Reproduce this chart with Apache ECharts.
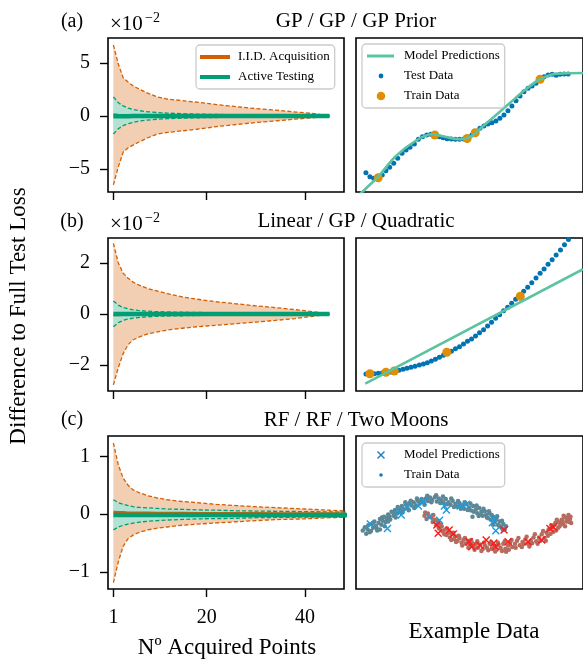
<!DOCTYPE html>
<html>
<head>
<meta charset="utf-8">
<script src="https://cdn.jsdelivr.net/npm/echarts@6.0.0/dist/echarts.min.js"></script>
<style>
  html, body { margin: 0; padding: 0; background: #fff; }
  #chart { width: 583px; height: 660px; }
</style>
</head>
<body>
<div id="chart"></div>
<script>
// ---------- left column: difference to full test loss ----------
const xTicks = [1, 20, 40];

// (a) GP / GP / GP Prior   (values x 1e-2)
const xA = [1, 2, 3, 4, 5, 6, 8, 10, 12, 15, 18, 22, 26, 30, 34, 38, 42, 45];
const iidHiA = [6.7, 4.9, 3.6, 3.2, 2.85, 2.6, 2.15, 1.8, 1.6, 1.45, 1.3, 1.08, 0.88, 0.7, 0.55, 0.38, 0.22, 0];
const iidLoA = [-6.5, -4.8, -3.4, -3.0, -2.75, -2.5, -2.05, -1.7, -1.55, -1.4, -1.25, -1.0, -0.8, -0.62, -0.46, -0.3, -0.15, 0];
const atHiA = [1.8, 1.25, 0.95, 0.75, 0.62, 0.52, 0.4, 0.32, 0.27, 0.22, 0.18, 0.15, 0.12, 0.1, 0.08, 0.06, 0.03, 0];
const atLoA = [-1.7, -1.2, -0.9, -0.72, -0.6, -0.5, -0.38, -0.3, -0.25, -0.2, -0.17, -0.14, -0.11, -0.09, -0.07, -0.05, -0.03, 0];
const iidMeanA = [0.15, 0.1, 0.07, 0.05, 0.04, 0.03, 0.02, 0.02, 0.01, 0.01, 0.01, 0, 0, 0, 0, 0, 0, 0];
const atMeanA = [-0.02, -0.02, -0.02, -0.02, -0.01, -0.01, -0.01, -0.01, -0.01, -0.01, 0, 0, 0, 0, 0, 0, 0, 0];
const yTicksA = [-5, 0, 5];

// (b) Linear / GP / Quadratic   (values x 1e-2)
const xB = [1, 2, 3, 4, 5, 6, 8, 10, 12, 15, 18, 22, 26, 30, 34, 38, 42, 45];
const iidHiB = [2.77, 2.0, 1.6, 1.4, 1.25, 1.15, 1.0, 0.9, 0.8, 0.67, 0.58, 0.48, 0.4, 0.32, 0.25, 0.17, 0.08, 0];
const iidLoB = [-2.78, -2.1, -1.55, -1.2, -1.02, -0.92, -0.78, -0.7, -0.63, -0.56, -0.5, -0.44, -0.38, -0.32, -0.25, -0.18, -0.08, 0];
const atHiB = [0.51, 0.35, 0.25, 0.2, 0.16, 0.14, 0.11, 0.09, 0.08, 0.07, 0.06, 0.05, 0.04, 0.03, 0.03, 0.02, 0.01, 0];
const atLoB = [-0.5, -0.34, -0.25, -0.2, -0.16, -0.14, -0.11, -0.09, -0.08, -0.07, -0.06, -0.05, -0.04, -0.03, -0.03, -0.02, -0.01, 0];
const iidMeanB = [-0.05, -0.05, -0.04, -0.04, -0.03, -0.03, -0.03, -0.02, -0.02, -0.02, -0.01, -0.01, -0.01, -0.01, 0, 0, 0, 0];
const atMeanB = [0, 0, 0, 0, 0, 0, 0, 0, 0, 0, 0, 0, 0, 0, 0, 0, 0, 0];
const yTicksB = [-2, 0, 2];

// (c) RF / RF / Two Moons
const xC = [1, 2, 3, 4, 5, 6, 8, 10, 12, 15, 18, 22, 26, 30, 35, 40, 45, 49];
const iidHiC = [1.23, 0.85, 0.62, 0.5, 0.42, 0.38, 0.32, 0.28, 0.25, 0.22, 0.2, 0.17, 0.15, 0.13, 0.11, 0.09, 0.07, 0.05];
const iidLoC = [-1.18, -0.82, -0.55, -0.42, -0.36, -0.32, -0.27, -0.24, -0.22, -0.19, -0.17, -0.15, -0.13, -0.11, -0.09, -0.08, -0.06, -0.05];
const atHiC = [0.25, 0.2, 0.17, 0.15, 0.13, 0.12, 0.11, 0.1, 0.09, 0.085, 0.075, 0.07, 0.06, 0.055, 0.05, 0.045, 0.04, 0.035];
const atLoC = [-0.27, -0.22, -0.19, -0.17, -0.155, -0.14, -0.12, -0.11, -0.1, -0.09, -0.08, -0.075, -0.07, -0.06, -0.055, -0.05, -0.045, -0.04];
const iidMeanC = [0.04, 0.035, 0.035, 0.03, 0.03, 0.03, 0.03, 0.025, 0.025, 0.025, 0.02, 0.02, 0.02, 0.02, 0.015, 0.015, 0.015, 0.01];
const atMeanC = [-0.015, -0.015, -0.015, -0.015, -0.015, -0.015, -0.015, -0.015, -0.015, -0.015, -0.015, -0.015, -0.015, -0.015, -0.015, -0.015, -0.015, -0.015];
const yTicksC = [-1, 0, 1];

// ---------- right column: example data ----------
// GP prior sample
const gpTestX = [10.7, 15, 19, 28.3, 32.3, 36.3, 40.7, 45, 49.7, 54, 58.3, 63, 67.3, 71.7, 76.3, 80.7, 85, 89.7, 94, 98.3,
  103, 107.3, 111.7, 116.3, 120.5, 125, 129.3, 133.7, 138, 142.3, 146.7, 151, 155.3, 159.7, 164, 168.3, 172.7, 177, 181.3, 185.7,
  190, 194.3, 198.7, 203, 207.3, 211.7, 216, 220.3, 224.7, 229];
const gpTestY = [19.3, 15.3, 13.7, 17, 21.3, 24.7, 28.7, 33.7, 38.7, 42, 44.7, 48, 52.7, 55.3, 57, 57.7, 57.5, 55.3, 54.3, 53.3,
  53, 52.7, 52.7, 53, 54, 57, 60, 63.7, 66, 68, 69.3, 71, 73.7, 77, 81.3, 86, 91.3, 96, 100.3, 103.7,
  106, 108.7, 112, 115.3, 117, 117.7, 116.7, 117.7, 118, 118];
const gpTrainX = [24, 85, 120, 128.7, 198.7];
const gpTrainY = [14.3, 57, 53.5, 59.3, 112.7];
const gpPredX = [1, 9, 24, 42.3, 65.7, 82.3, 95.7, 112.3, 124, 135.7, 149, 165.7, 182.3, 197.3, 212.3, 227, 245];
const gpPredY = [-5, 2, 15.3, 35.3, 52, 57.7, 55.3, 52.7, 55.3, 64.7, 75.3, 88.7, 102, 112, 117.7, 118.7, 119];

// quadratic data, linear model
const quadTestX = [10.7, 15, 19.7, 24, 28.3, 33, 37.3, 41.7, 46.3, 50.7, 55, 59.3, 63.7, 68.3, 72.7, 77, 81.3, 85.7, 90, 94.3,
  98.7, 103, 107.3, 111.7, 116, 120.3, 124.7, 129, 133.3, 137.7, 142, 146.3, 150.7, 155, 159.3, 163.7, 168, 172.3, 176.7, 181,
  185.3, 189.7, 194.3, 198.7, 203, 207.3, 211.7, 216, 220.7, 225, 229.3];
const quadTestY = [17, 17, 17.3, 17.7, 18, 18.3, 19, 19.7, 20.7, 21.7, 22.7, 23.7, 24.7, 26, 27, 28.3, 30, 31.7, 33.7, 35.7,
  37.7, 39.7, 42.3, 44.3, 47, 49.7, 52, 55, 58.3, 61.3, 65, 68.7, 72.7, 76.3, 80.3, 83.7, 87.7, 91.7, 95.7, 99.7,
  103.7, 108.3, 113, 117.7, 122, 126.7, 131.3, 136, 141, 146.3, 151.5];
const quadTrainX = [15, 32.3, 41.3, 98, 177.3];
const quadTrainY = [17.3, 18.7, 20, 38.7, 94.7];
const linPredX = [10, 245];
const linPredY = [7.3, 121.8];

// two moons
const blueMoon = [[-1.05, 0.02], [-1.02, 0.12], [-0.98, 0.05], [-0.97, 0.18], [-0.95, -0.04], [-0.92, 0.22], [-0.9, 0.1],
  [-0.88, 0.3], [-0.86, 0.16], [-0.84, 0.02], [-0.82, 0.25], [-0.8, 0.38], [-0.78, 0.2], [-0.76, 0.32], [-0.74, 0.45],
  [-0.72, 0.28], [-0.7, 0.4], [-0.68, 0.52], [-0.65, 0.36], [-0.63, 0.6], [-0.6, 0.48], [-0.58, 0.66], [-0.55, 0.55],
  [-0.52, 0.7], [-0.5, 0.62], [-0.48, 0.78], [-0.45, 0.68], [-0.42, 0.82], [-0.4, 0.72], [-0.37, 0.88], [-0.34, 0.8],
  [-0.31, 0.9], [-0.28, 0.78], [-0.25, 0.95], [-0.22, 0.86], [-0.19, 1.0], [-0.16, 0.9], [-0.13, 1.02], [-0.1, 0.94],
  [-0.07, 1.05], [-0.04, 0.97], [0.0, 1.06], [0.03, 0.92], [0.06, 1.02], [0.1, 0.96], [0.13, 0.88], [0.16, 1.0],
  [0.2, 0.9], [0.23, 0.82], [0.26, 0.95], [0.3, 0.85], [0.33, 0.76], [0.36, 0.88], [0.4, 0.8], [0.43, 0.7], [0.46, 0.84],
  [0.5, 0.74], [0.53, 0.64], [0.56, 0.78], [0.6, 0.68], [0.62, 0.56], [0.65, 0.72], [0.68, 0.6], [0.7, 0.48], [0.73, 0.62],
  [0.75, 0.5], [0.78, 0.4], [0.8, 0.55], [0.82, 0.35], [0.85, 0.45], [0.87, 0.28], [0.9, 0.38], [0.92, 0.2], [0.95, 0.3],
  [0.97, 0.12], [1.0, 0.22], [1.02, 0.05], [0.64, 0.47],
  [-1.0, -0.08], [-0.93, 0.0], [-0.9, 0.26], [-0.85, 0.1], [-0.8, 0.05], [-0.77, 0.42], [-0.73, 0.15], [-0.68, 0.3],
  [-0.66, 0.46], [-0.6, 0.58], [-0.57, 0.42], [-0.54, 0.75], [-0.47, 0.58], [-0.43, 0.9], [-0.38, 0.65], [-0.35, 0.95],
  [-0.3, 0.72], [-0.26, 1.02], [-0.21, 0.92], [-0.15, 0.82], [-0.11, 1.1], [-0.05, 0.9], [0.02, 1.12], [0.08, 0.88],
  [0.12, 1.08], [0.18, 0.84], [0.24, 1.02], [0.28, 0.75], [0.34, 0.94], [0.38, 0.7], [0.44, 0.9], [0.48, 0.66],
  [0.52, 0.86], [0.57, 0.6], [0.61, 0.8], [0.67, 0.52], [0.71, 0.7], [0.76, 0.42], [0.79, 0.62], [0.83, 0.5],
  [0.88, 0.32], [0.91, 0.46], [0.94, 0.16], [0.98, 0.32], [0.99, 0.05], [1.04, 0.15], [0.85, 0.2], [0.55, 0.45]];
const redMoon = [[-0.15, 0.48], [-0.1, 0.55], [-0.12, 0.38], [-0.05, 0.42], [-0.03, 0.28], [0.0, 0.35], [0.02, 0.18],
  [0.05, 0.25], [0.06, 0.08], [0.1, 0.15], [0.12, -0.02], [0.15, 0.05], [0.17, -0.12], [0.2, -0.05], [0.22, -0.2],
  [0.25, -0.1], [0.28, -0.25], [0.3, -0.16], [0.33, -0.3], [0.36, -0.22], [0.39, -0.36], [0.42, -0.27], [0.45, -0.4],
  [0.48, -0.3], [0.51, -0.45], [0.54, -0.36], [0.57, -0.5], [0.6, -0.4], [0.63, -0.52], [0.66, -0.42], [0.7, -0.56],
  [0.73, -0.44], [0.76, -0.52], [0.8, -0.4], [0.83, -0.55], [0.86, -0.46], [0.9, -0.58], [0.93, -0.43], [0.96, -0.52],
  [1.0, -0.4], [1.03, -0.55], [1.07, -0.45], [1.1, -0.36], [1.13, -0.5], [1.17, -0.4], [1.2, -0.3], [1.24, -0.44],
  [1.28, -0.34], [1.32, -0.26], [1.36, -0.4], [1.4, -0.3], [1.44, -0.2], [1.48, -0.32], [1.52, -0.2], [1.56, -0.1],
  [1.6, -0.22], [1.63, -0.05], [1.66, 0.05], [1.69, -0.08], [1.72, 0.12], [1.75, 0.2], [1.77, 0.02], [1.8, 0.28],
  [1.82, 0.15], [1.85, 0.35], [1.87, 0.22], [1.9, 0.42], [1.92, 0.3], [1.95, 0.5], [1.97, 0.36], [1.99, 0.25], [1.04, -0.65],
  [-0.14, 0.58], [-0.08, 0.45], [-0.02, 0.5], [0.03, 0.32], [0.08, 0.2], [0.1, 0.02], [0.14, -0.1], [0.18, 0.08],
  [0.24, -0.28], [0.27, -0.05], [0.31, -0.34], [0.35, -0.15], [0.4, -0.45], [0.44, -0.22], [0.49, -0.52], [0.53, -0.28],
  [0.58, -0.58], [0.62, -0.32], [0.68, -0.62], [0.72, -0.36], [0.78, -0.6], [0.82, -0.34], [0.88, -0.64], [0.92, -0.36],
  [0.98, -0.62], [1.02, -0.32], [1.08, -0.58], [1.12, -0.28], [1.18, -0.52], [1.22, -0.22], [1.27, -0.5], [1.3, -0.4],
  [1.34, -0.18], [1.38, -0.48], [1.42, -0.38], [1.46, -0.1], [1.5, -0.4], [1.54, -0.3], [1.58, 0.0], [1.62, -0.3],
  [1.65, -0.15], [1.7, 0.18], [1.73, -0.02], [1.78, 0.35], [1.8, 0.1], [1.84, 0.25], [1.88, 0.48], [1.9, 0.15],
  [1.93, 0.4], [1.96, 0.28], [1.98, 0.45], [1.86, 0.3], [1.76, 0.26]];
const blueCross = [[-0.94, 0.22], [-0.69, 0.08], [-0.53, 0.6], [-0.49, 0.5], [-0.4, 0.76], [-0.24, 0.78], [-0.17, 0.92],
  [-0.08, 0.45], [0.07, 0.34], [0.14, 0.78], [0.17, 0.66], [0.37, 0.78], [0.46, 0.84], [0.84, 0.26], [0.89, 0.01], [0.86, 0.4]];
const redCross = [[0.03, 0.19], [0.05, -0.07], [0.21, 0.03], [0.27, -0.09], [0.5, -0.33], [0.54, -0.49], [0.66, -0.44],
  [0.75, -0.28], [0.86, -0.37], [0.89, -0.49], [1.01, 0.03], [1.07, -0.33], [1.36, -0.33], [1.56, -0.28], [1.68, 0.08], [1.73, 0.13]];

// ---------- styling ----------
const FONT = '"Liberation Serif", "Times New Roman", serif';
const IID = '#D55E00';
const AT = '#029E73';
const PRED = '#5CC3A2';
const TEST = '#0173B2';
const TRAIN = '#DE8F05';
const X_PATH = 'path://M1,0L8,7L7,8L0,1ZM7,0L8,1L1,8L0,7Z';

const pairs = (xs, ys) => xs.map((x, i) => [x, ys[i]]);
const minus = v => (v < 0 ? '\u2212' + Math.abs(v) : String(v));

const myChart = echarts.init(document.getElementById('chart'));

const grids = [
  { left: 108, top: 38, width: 236, height: 154 },
  { left: 356, top: 38, width: 245, height: 154 },
  { left: 108, top: 238, width: 236, height: 153 },
  { left: 356, top: 238, width: 245, height: 153 },
  { left: 108, top: 436, width: 236, height: 153 },
  { left: 356, top: 436, width: 245, height: 153 }
].map(g => Object.assign(g, { show: true, borderColor: '#000', borderWidth: 1.6, backgroundColor: 'transparent', containLabel: false }));

const tickStyle = { show: true, length: 8, lineStyle: { color: '#000', width: 1.4 } };
const labelStyle = { color: '#000', fontFamily: FONT, fontSize: 20 };

function leftX(gi, showLabels) {
  return {
    type: 'value', gridIndex: gi, min: -0.1, max: 47.95, position: 'bottom',
    axisLine: { show: false, onZero: false }, splitLine: { show: false },
    axisTick: Object.assign({ customValues: xTicks }, tickStyle),
    axisLabel: Object.assign({ show: showLabels, customValues: xTicks, margin: 19 }, labelStyle)
  };
}
function leftY(gi, min, max, ticks) {
  return {
    type: 'value', gridIndex: gi, min: min, max: max, position: 'left',
    axisLine: { show: false, onZero: false }, splitLine: { show: false },
    axisTick: Object.assign({ customValues: ticks }, tickStyle),
    axisLabel: Object.assign({ customValues: ticks, margin: 18, formatter: minus }, labelStyle)
  };
}
function hidden(gi, min, max) {
  return { type: 'value', gridIndex: gi, min: min, max: max, show: false };
}

const xAxes = [leftX(0, false), hidden(1, 0, 245), leftX(2, false), hidden(3, 0, 245), leftX(4, true), hidden(5, -1.149, 2.162)];
const yAxes = [leftY(0, -7.17, 7.36, yTicksA), hidden(1, 0, 154), leftY(2, -3.02, 2.98, yTicksB), hidden(3, 0, 153),
  leftY(4, -1.29, 1.35, yTicksC), hidden(5, -1.81, 2.97)];

const series = [];

function band(gi, xs, lo, hi, fill) {
  return {
    type: 'custom', xAxisIndex: gi, yAxisIndex: gi, clip: true, silent: true,
    data: xs.map((x, i) => [x, lo[i], hi[i]]),
    renderItem(params, api) {
      if (params.dataIndex !== 0) return null;
      const pts = [];
      for (let i = 0; i < xs.length; i++) pts.push(api.coord([xs[i], hi[i]]));
      for (let i = xs.length - 1; i >= 0; i--) pts.push(api.coord([xs[i], lo[i]]));
      return { type: 'polygon', shape: { points: pts }, style: { fill: fill } };
    }
  };
}
function dashed(gi, xs, ys, color) {
  return {
    type: 'line', xAxisIndex: gi, yAxisIndex: gi, data: pairs(xs, ys), symbol: 'none', silent: true,
    lineStyle: { color: color, width: 1.3, type: [4, 2.2] }
  };
}
function mean(gi, xs, ys, color, width, name) {
  return {
    name: name, type: 'line', xAxisIndex: gi, yAxisIndex: gi, data: pairs(xs, ys), symbol: 'none', silent: true,
    itemStyle: { color: color }, lineStyle: { color: color, width: width }
  };
}
function panel(gi, xs, iHi, iLo, aHi, aLo, iMean, aMean) {
  series.push(band(gi, xs, iLo, iHi, 'rgba(213,94,0,0.3)'));
  series.push(band(gi, xs, aLo, aHi, '#B3E2D3'));
  series.push(dashed(gi, xs, iHi, IID), dashed(gi, xs, iLo, IID));
  series.push(dashed(gi, xs, aHi, AT), dashed(gi, xs, aLo, AT));
  series.push(mean(gi, xs, iMean, IID, 2.2, 'I.I.D. Acquisition'));
  series.push(mean(gi, xs, aMean, AT, 4.5, 'Active Testing'));
}
panel(0, xA, iidHiA, iidLoA, atHiA, atLoA, iidMeanA, atMeanA);
panel(2, xB, iidHiB, iidLoB, atHiB, atLoB, iidMeanB, atMeanB);
panel(4, xC, iidHiC, iidLoC, atHiC, atLoC, iidMeanC, atMeanC);

function scatter(gi, name, data, color, size, symbol) {
  return {
    name: name, type: 'scatter', xAxisIndex: gi, yAxisIndex: gi, data: data, silent: true,
    symbol: symbol || 'circle', symbolSize: size, itemStyle: { color: color, opacity: 1 }
  };
}

// (a) right
series.push({
  name: 'Model Predictions#1', type: 'line', xAxisIndex: 1, yAxisIndex: 1, data: pairs(gpPredX, gpPredY),
  symbol: 'none', smooth: 0.3, silent: true, itemStyle: { color: PRED }, lineStyle: { color: PRED, width: 2.6 }
});
series.push(scatter(1, 'Test Data#1', pairs(gpTestX, gpTestY), TEST, 5));
series.push(scatter(1, 'Train Data#1', pairs(gpTrainX, gpTrainY), TRAIN, 9));

// (b) right
series.push({
  name: 'Model Predictions#2', type: 'line', xAxisIndex: 3, yAxisIndex: 3, data: pairs(linPredX, linPredY),
  symbol: 'none', silent: true, itemStyle: { color: PRED }, lineStyle: { color: PRED, width: 2.6 }
});
series.push(scatter(3, 'Test Data#2', pairs(quadTestX, quadTestY), TEST, 5));
series.push(scatter(3, 'Train Data#2', pairs(quadTrainX, quadTrainY), TRAIN, 9));

// (c) right
series.push(scatter(5, 'Train Data#3', blueMoon, '#5B8796', 4.5));
series.push(scatter(5, 'Train Data#3', redMoon, '#B56B5E', 4.5));
series.push(scatter(5, 'Model Predictions#3', blueCross, '#1C9BDD', 8, X_PATH));
series.push(scatter(5, 'Model Predictions#3', redCross, '#FF1A1A', 8, X_PATH));

// legends
const BOX = 'path://M0,0h0.01M33,14h0.01';
const legendBase = {
  orient: 'vertical', itemWidth: 33, itemHeight: 14, itemGap: 6, padding: [5, 5, 5, 4],
  backgroundColor: 'rgba(255,255,255,0.85)', borderColor: '#CCCCCC', borderWidth: 1.3, borderRadius: 4,
  itemStyle: { borderWidth: 0 }, selectedMode: false,
  textStyle: { fontFamily: FONT, fontSize: 13, color: '#000' },
  formatter: name => name.split('#')[0]
};
const legends = [
  Object.assign({}, legendBase, {
    left: 196, top: 45,
    data: [
      { name: 'I.I.D. Acquisition', icon: BOX + 'M0,5h30v4h-30z' },
      { name: 'Active Testing', icon: BOX + 'M0,5h30v4h-30z' }
    ]
  }),
  Object.assign({}, legendBase, {
    left: 362, top: 44,
    data: [
      { name: 'Model Predictions#1', icon: BOX + 'M1,5.6h27v2.8h-27z' },
      { name: 'Test Data#1', icon: BOX + 'M12.6,7a2.4,2.4 0 1,0 4.8,0a2.4,2.4 0 1,0 -4.8,0Z' },
      { name: 'Train Data#1', icon: BOX + 'M10.7,7a4.3,4.3 0 1,0 8.6,0a4.3,4.3 0 1,0 -8.6,0Z' }
    ]
  }),
  Object.assign({}, legendBase, {
    left: 362, top: 443,
    data: [
      { name: 'Model Predictions#3', icon: BOX + 'M12,3L19,10L18,11L11,4ZM18,3L19,4L12,11L11,10Z', itemStyle: { color: '#1F7FC0' } },
      { name: 'Train Data#3', icon: BOX + 'M13.2,7a1.8,1.8 0 1,0 3.6,0a1.8,1.8 0 1,0 -3.6,0Z', itemStyle: { color: '#1F77B4' } }
    ]
  })
];

// texts
function txt(text, x, y, size, align, rot) {
  return {
    type: 'text', x: x, y: y, rotation: rot || 0, z: 100,
    style: { text: text, font: size + 'px ' + FONT, fill: '#000', textAlign: align, textVerticalAlign: 'middle', align: align, verticalAlign: 'middle' }
  };
}
const graphics = [
  txt('(a)', 72, 22, 20, 'center'),
  txt('\u00d710', 110, 24, 21, 'left'),
  txt('\u22122', 145, 18, 14, 'left'),
  txt('GP / GP / GP Prior', 356, 21.5, 21, 'center'),
  txt('(b)', 72, 222, 20, 'center'),
  txt('\u00d710', 110, 224, 21, 'left'),
  txt('\u22122', 145, 218, 14, 'left'),
  txt('Linear / GP / Quadratic', 356, 221.5, 21, 'center'),
  txt('(c)', 72, 420, 20, 'center'),
  txt('RF / RF / Two Moons', 356, 420, 21, 'center'),
  txt('N\u00ba Acquired Points', 227, 648, 23, 'center'),
  txt('Example Data', 474, 632, 23, 'center'),
  txt('Difference to Full Test Loss', 19, 316, 23, 'center', Math.PI / 2)
];

const option = {
  animation: false,
  backgroundColor: '#fff',
  grid: grids,
  xAxis: xAxes,
  yAxis: yAxes,
  legend: legends,
  series: series,
  graphic: graphics
};
myChart.setOption(option);
window.addEventListener('resize', function () { myChart.resize(); });
</script>
</body>
</html>
